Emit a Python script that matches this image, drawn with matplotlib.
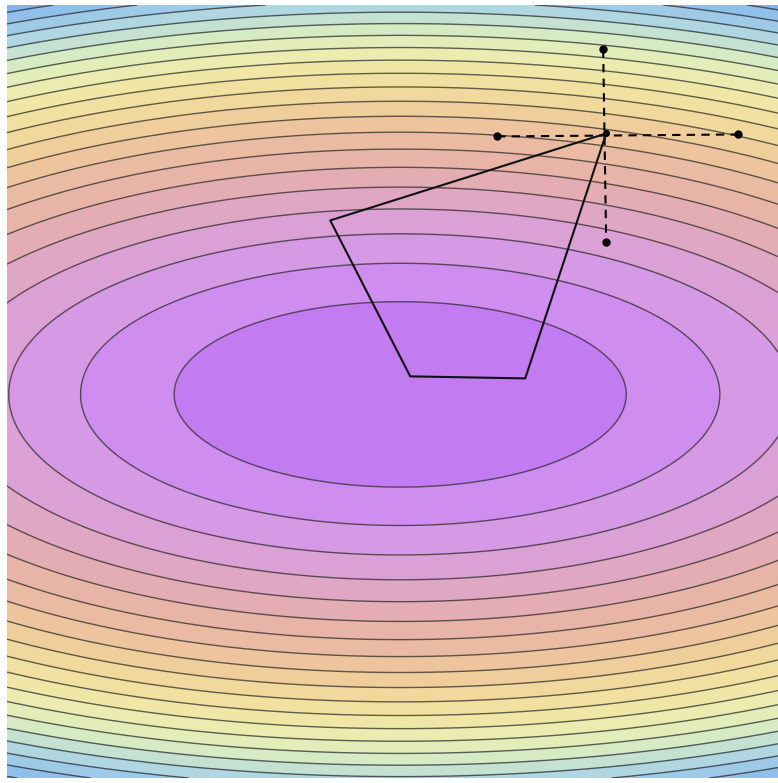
import numpy as np
import matplotlib
matplotlib.use("Agg")
import matplotlib.pyplot as plt
from matplotlib.colors import LinearSegmentedColormap

# quadratic bowl f(x, y) = x^2 / ax + y^2 / ay, contour levels 0..21
ax_scale = 5.5
ay_scale = 0.925
levels = np.arange(0, 22, 1)

# simplex-like path (closed polygon)
path_x = [2.137, -0.726, 0.104, 1.297, 2.137]
path_y = [2.707, 1.805, 0.187, 0.166, 2.707]

# probe points around the current point
center = (2.137, 2.707)
probe_h_x = [1.006, 3.506]
probe_h_y = [2.676, 2.697]
probe_v_x = [2.106, 2.137]
probe_v_y = [3.579, 1.577]

xlim = (-4.08, 3.92)
ylim = (-3.98, 4.04)

# colours by level value
cmap_stops = [0.0, 2.0, 4.0, 6.0, 8.0, 10.0, 12.0, 14.0, 16.0, 18.0, 21.0]
cmap_colors = ["#bd72f2", "#d496ee", "#dea4cc", "#e6b0ac", "#ecbf9e",
               "#f0d49a", "#f2e4a2", "#eaefb6", "#cfe8c8", "#a6d0e8", "#7aaeea"]

cmap = LinearSegmentedColormap.from_list(
    "bowl", list(zip(np.array(cmap_stops) / cmap_stops[-1], cmap_colors)))

x = np.linspace(xlim[0], xlim[1], 500)
y = np.linspace(ylim[0], ylim[1], 500)
X, Y = np.meshgrid(x, y)
Z = X**2 / ax_scale + Y**2 / ay_scale

fig = plt.figure(figsize=(7.78, 7.83), dpi=100)
ax = fig.add_axes([7 / 778, 5 / 783, 771 / 778, 773 / 783])

ax.contourf(X, Y, Z, levels=levels, cmap=cmap, vmin=0, vmax=21, extend="max")
ax.contour(X, Y, Z, levels=levels[1:], colors="#222222", linewidths=1.0, alpha=0.7)

# dashed probe lines
ax.plot(probe_h_x, probe_h_y, color="black", lw=1.5, ls=(0, (4, 3)))
ax.plot(probe_v_x, probe_v_y, color="black", lw=1.5, ls=(0, (4, 3)))
ax.plot(probe_h_x + probe_v_x, probe_h_y + probe_v_y, "o", color="black", ms=5)
ax.plot([center[0]], [center[1]], "o", color="black", ms=4)

# solid path
ax.plot(path_x, path_y, color="#111111", lw=1.5)

ax.set_xlim(xlim)
ax.set_ylim(ylim)
ax.set_axis_off()

fig.savefig("out.png", dpi=100)
